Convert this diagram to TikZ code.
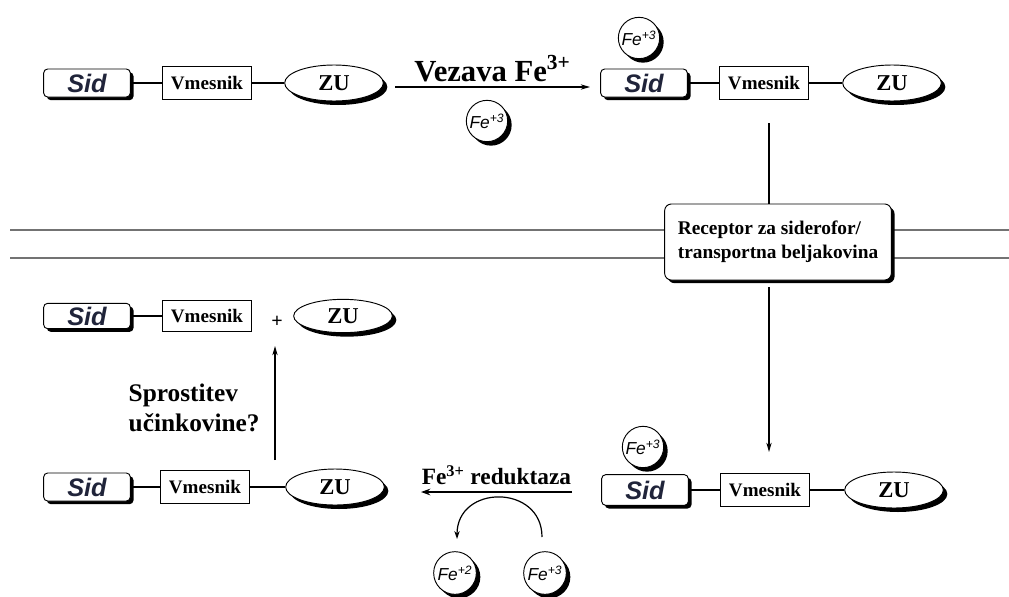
\documentclass[tikz,border=0pt]{standalone}
\usepackage{fontspec}
\setmainfont{Liberation Serif}
\newfontfamily\sansf{Liberation Sans}
\usetikzlibrary{shadows,arrows.meta,shapes.geometric}
\definecolor{sidcol}{RGB}{32,36,58}
\definecolor{memb}{RGB}{115,115,115}
\tikzset{
  shad/.style={drop shadow={shadow xshift=2.4pt,shadow yshift=-2.4pt,fill=black,opacity=1}},
  shadr/.style={drop shadow={shadow xshift=3pt,shadow yshift=-3pt,fill=black,opacity=1}},
  sidbox/.style={draw,line width=0.7pt,rounded corners=3pt,fill=white,shad,
    minimum width=65pt,minimum height=21pt,inner sep=0pt,
    font=\sansf\bfseries\itshape\fontsize{19}{19}\selectfont,text=sidcol},
  vmbox/.style={draw,line width=0.7pt,fill=white,minimum width=67pt,minimum height=25pt,
    inner sep=0pt,font=\bfseries\fontsize{14.3}{14.3}\selectfont},
  zu/.style={ellipse,draw,line width=0.7pt,fill=white,shadr,minimum width=74pt,minimum height=27pt,
    inner sep=0pt,font=\bfseries\fontsize{17}{17}\selectfont},
  fe/.style={circle,draw,line width=0.7pt,fill=white,shadr,minimum size=31pt,inner sep=0pt,
    font=\sansf\itshape\fontsize{13}{13}\selectfont},
  link/.style={line width=1.3pt},
  thin/.style={line width=0.9pt},
  membrane/.style={line width=1.9pt,draw=memb},
}
\begin{document}
\begin{tikzpicture}[x=0.75pt,y=-0.75pt]
\useasboundingbox (0,0) rectangle (1009,596);
% membrane
\draw[membrane] (10,230) -- (665,230) (893,230) -- (1009,230);
\draw[membrane] (10,258) -- (665,258) (893,258) -- (1009,258);
% receptor
\node[draw,line width=0.7pt,rounded corners=5pt,fill=white,shad,minimum width=170pt,minimum height=57pt,
  align=left,font=\bfseries\fontsize{14.5}{18}\selectfont] (rec) at (778,242)
  {Receptor za siderofor/\\transportna beljakovina};

% row 1 left
\node[sidbox] (s1) at (87,83) {Sid};
\node[vmbox] (v1) at (207,83) {Vmesnik};
\node[zu] (z1) at (334,83) {ZU};
\draw[link] (s1) -- (v1); \draw[link] (v1) -- (z1);
% arrow binding
\coordinate (a1s) at (395,87);
\coordinate (a1e) at (590,87);
\draw[thin,-{Stealth[length=7pt,width=4pt]}] (a1s) -- (a1e)
  node[midway,above=0pt,font=\bfseries\fontsize{23}{23}\selectfont] (lab1) {Vezava Fe\textsuperscript{3+}};
\node[fe] (fe1) at (487,121) {Fe\textsuperscript{+3}};

% row 1 right
\node[sidbox] (s2) at (644,83) {Sid};
\node[fe] (fe2) at (639,38) {Fe\textsuperscript{+3}};
\node[vmbox] (v2) at (764,83) {Vmesnik};
\node[zu] (z2) at (892,83) {ZU};
\draw[link] (s2) -- (v2); \draw[link] (v2) -- (z2);
\coordinate (c1) at (769,123);
\draw[thin] (c1) -- (rec.north -| c1);
\coordinate (c2) at (769,452);
\draw[thin,-{Stealth[length=7pt,width=4pt]}] (769,287) -- (c2);

% row 3 right
\node[sidbox,minimum height=23pt] (s3) at (645,490) {Sid};
\node[fe] (fe3) at (643,447) {Fe\textsuperscript{+3}};
\node[vmbox] (v3) at (765,490) {Vmesnik};
\node[zu] (z3) at (894,490) {ZU};
\draw[link] (s3) -- (v3); \draw[link] (v3) -- (z3);
% reductase arrow
\coordinate (b1s) at (572,492);
\coordinate (b1e) at (421,492);
\draw[line width=2.2pt,-{Stealth[length=7pt,width=5pt]}] (b1s) -- (b1e)
  node[midway,above=1pt,font=\bfseries\fontsize{17.5}{17.5}\selectfont] (lab2) {Fe\textsuperscript{3+} reduktaza};
\node[fe,minimum size=32pt] (fe4) at (455,573) {Fe\textsuperscript{+2}};
\node[fe,minimum size=32pt] (fe5) at (545,573) {Fe\textsuperscript{+3}};
\coordinate (e1) at (542,537);
\coordinate (e2) at (457,539);
\draw[thin,-{Stealth[length=6pt,width=4pt]}] (e1) .. controls (542,484) and (457,484) .. (e2);

% row 3 left
\node[sidbox] (s4) at (87,487) {Sid};
\node[vmbox] (v4) at (205,487) {Vmesnik};
\node[zu] (z4) at (335,487) {ZU};
\draw[link] (s4) -- (v4); \draw[link] (v4) -- (z4);
\coordinate (d1) at (275,460);
\coordinate (d2) at (275,346);
\draw[thin,-{Stealth[length=7pt,width=4pt]}] (d1) -- (d2);
\node[anchor=west,align=left,font=\bfseries\fontsize{19}{23}\selectfont] (spr) at (124,408)
  {Sprostitev\\učinkovine?};

% row 2 left
\node[sidbox,minimum height=19pt] (s5) at (87,316) {Sid};
\node[vmbox,minimum height=23pt] (v5) at (207,316) {Vmesnik};
\draw[link] (s5) -- (v5);
\node[font=\bfseries\fontsize{15}{15}\selectfont] (plus) at (277,322) {+};
\node[zu,minimum height=25pt] (z5) at (343,316) {ZU};
\end{tikzpicture}
\end{document}
